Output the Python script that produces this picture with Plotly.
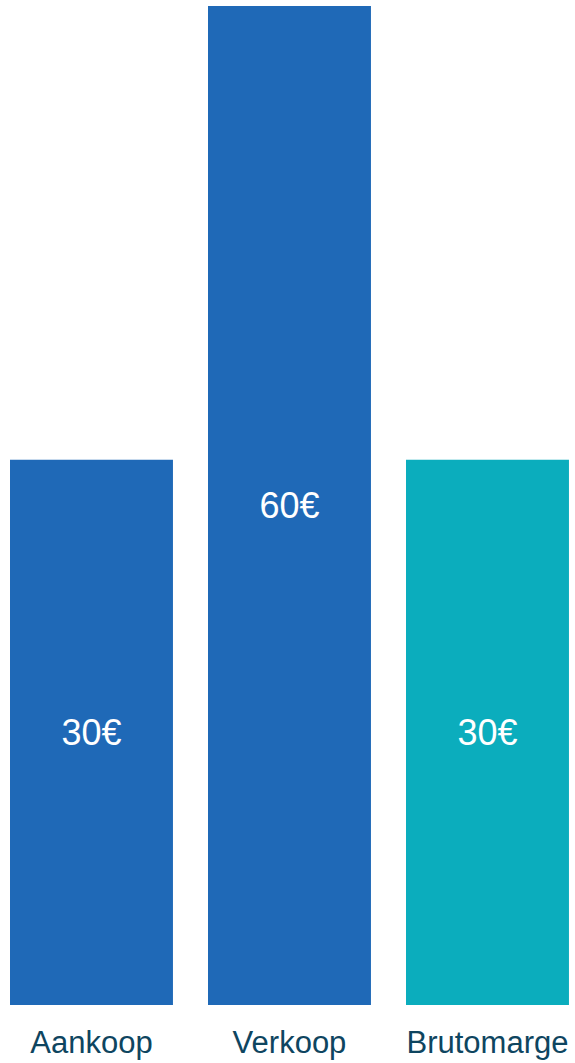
import plotly.graph_objects as go

categories = ["Aankoop", "Verkoop", "Brutomarge"]
values = [30, 60, 30]
bar_colors = ["#1f69b7", "#1f69b7", "#0badbd"]
value_labels = [f"{v}€" for v in values]

# the value axis starts slightly below zero; bars rise from that floor
axis_floor = -6.05
axis_top = 60.4

fig = go.Figure(
    go.Bar(
        x=categories,
        y=[v - axis_floor for v in values],
        base=axis_floor,
        marker=dict(color=bar_colors, line=dict(width=0)),
        text=value_labels,
        textposition="inside",
        insidetextanchor="middle",
        textangle=0,
        textfont=dict(family="Liberation Sans, Arial, sans-serif", size=36, color="white"),
        hoverinfo="skip",
    )
)

fig.update_layout(
    width=575,
    height=1063,
    margin=dict(l=0, r=0, t=0, b=58),
    paper_bgcolor="white",
    plot_bgcolor="white",
    bargap=0.177,
    showlegend=False,
    xaxis=dict(
        range=[-0.462, 2.442],
        showgrid=False,
        zeroline=False,
        showline=False,
        ticks="",
        ticklabelstandoff=16,
        tickfont=dict(family="Liberation Sans, Arial, sans-serif", size=31, color="#0e4560"),
    ),
    yaxis=dict(
        range=[axis_floor, axis_top],
        visible=False,
        showgrid=False,
        zeroline=False,
    ),
)

fig.write_html("out.html")
